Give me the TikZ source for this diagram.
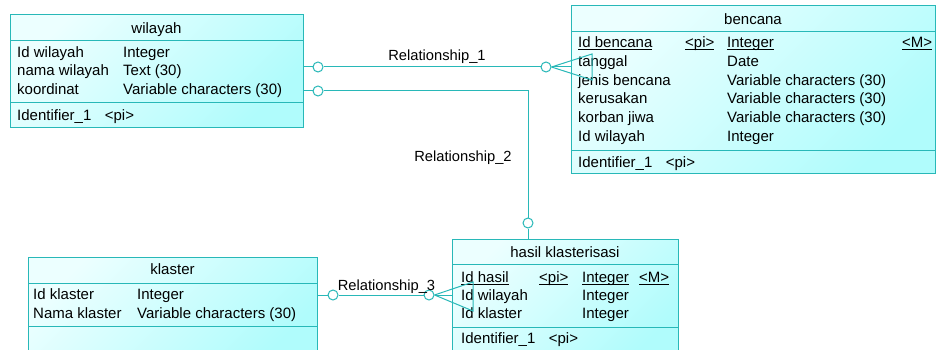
\documentclass[tikz,border=0pt]{standalone}
\usepackage{fontspec}
\setmainfont{Liberation Sans}
\begin{document}
\definecolor{erline}{RGB}{40,184,184}
\definecolor{erlight}{RGB}{236,255,255}
\definecolor{erdark}{RGB}{176,252,252}
% underline placed just below the baseline, independent of descenders
\newcommand\ulx[1]{\setbox0\hbox{#1}\rlap{\rule[-2.2pt]{\wd0}{0.8pt}}\box0}
\begin{tikzpicture}[x=1pt,y=-1pt,
  entity/.style={draw=erline, line width=1pt, top color=erlight, bottom color=erdark, shading angle=45},
  sepline/.style={draw=erline, line width=1pt},
  conn/.style={draw=erline, line width=1pt},
  opt/.style={circle, draw=erline, line width=1pt, fill=white, minimum size=10pt, inner sep=0pt},
  txt/.style={anchor=base west, inner sep=0pt, font=\fontsize{15}{18}\selectfont},
  ttl/.style={anchor=base, inner sep=0pt, font=\fontsize{15}{18}\selectfont},
  rel/.style={anchor=base, inner sep=0pt, font=\fontsize{14.7}{18}\selectfont}]
\useasboundingbox (0,0) rectangle (936,350);
\fill[white] (0,0) rectangle (936,350);
\clip (0,0) rectangle (936,350);

% ---- wilayah ----
\path[entity] (10,15) rectangle (303,127);
\draw[sepline] (10,41) -- (303,41);
\draw[sepline] (10,103) -- (303,103);
\node[ttl] (wT) at (156.5,33.5) {wilayah};
\node[txt] (w1) at (17,57.5) {Id wilayah};
\node[txt] (w2) at (17,76) {nama wilayah};
\node[txt] (w3) at (17,94.5) {koordinat};
\node[txt] (w1t) at (123,57.5) {Integer};
\node[txt] (w2t) at (123,76) {Text (30)};
\node[txt] (w3t) at (123,94.5) {Variable characters (30)};
\node[txt] (wI) at (17,120.5) {Identifier\_1\hspace{0.9em}<pi>};

% ---- bencana ----
\path[entity] (571,6) rectangle (935,173);
\draw[sepline] (571,32) -- (935,32);
\draw[sepline] (571,150) -- (935,150);
\node[ttl] (bT) at (753,24.5) {bencana};
\node[txt] (b1) at (578,47.5) {\ulx{Id bencana}};
\node[txt] (b1p) at (685,47.5) {\ulx{<pi>}};
\node[txt] (b1t) at (727,47.5) {\ulx{Integer}};
\node[txt] (b1m) at (902,47.5) {\ulx{<M>}};
\node[txt] (b2) at (578,66.3) {tanggal};
\node[txt] (b2t) at (727,66.3) {Date};
\node[txt] (b3) at (578,85.1) {jenis bencana};
\node[txt] (b3t) at (727,85.1) {Variable characters (30)};
\node[txt] (b4) at (578,103.9) {kerusakan};
\node[txt] (b4t) at (727,103.9) {Variable characters (30)};
\node[txt] (b5) at (578,122.7) {korban jiwa};
\node[txt] (b5t) at (727,122.7) {Variable characters (30)};
\node[txt] (b6) at (578,141.5) {Id wilayah};
\node[txt] (b6t) at (727,141.5) {Integer};
\node[txt] (bI) at (578,167.5) {Identifier\_1\hspace{0.9em}<pi>};

% ---- klaster ----
\path[entity] (28,257) rectangle (317,362);
\draw[sepline] (28,283) -- (317,283);
\draw[sepline] (28,326) -- (317,326);
\node[ttl] (kT) at (172.5,274.5) {klaster};
\node[txt] (k1) at (33,299.5) {Id klaster};
\node[txt] (k2) at (33,318.5) {Nama klaster};
\node[txt] (k1t) at (137,299.5) {Integer};
\node[txt] (k2t) at (137,318.5) {Variable characters (30)};

% ---- hasil klasterisasi ----
\path[entity] (452,239) rectangle (678,362);
\draw[sepline] (452,264) -- (678,264);
\draw[sepline] (452,327) -- (678,327);
\node[ttl] (hT) at (565,257.5) {hasil klasterisasi};
\node[txt] (h1) at (461,282.5) {\ulx{Id hasil}};
\node[txt] (h1p) at (539,282.5) {\ulx{<pi>}};
\node[txt] (h1t) at (582,282.5) {\ulx{Integer}};
\node[txt] (h1m) at (639,282.5) {\ulx{<M>}};
\node[txt] (h2) at (461,300.5) {Id wilayah};
\node[txt] (h2t) at (582,300.5) {Integer};
\node[txt] (h3) at (461,318.5) {Id klaster};
\node[txt] (h3t) at (582,318.5) {Integer};
\node[txt] (hI) at (461,343.5) {Identifier\_1\hspace{0.9em}<pi>};

% ---- connection points on the entity borders ----
\coordinate (wR1) at (303,67);
\coordinate (wR2) at (303,91);
\coordinate (bL) at (571,67);
\coordinate (bend2) at (528,91);
\coordinate (hTop) at (528,239);
\coordinate (kR) at (317,295);
\coordinate (hL) at (452,295);

% ---- Relationship_1: wilayah -- bencana ----
\node[opt] (r1a) at (318,67) {};
\node[opt] (r1b) at (546,67) {};
\coordinate (r1up) at (592,54);
\coordinate (r1dn) at (592,80);
\draw[conn] (wR1) -- (r1a);
\draw[conn] (r1a) -- (r1b);
\draw[conn] (r1b.east) -- (r1up) -- (r1dn) -- (r1b.east);
\draw[conn] (r1b.east) -- (bL);
\node[rel] (r1l) at (437,60.5) {Relationship\_1};

% ---- Relationship_2: wilayah -- hasil klasterisasi ----
\node[opt] (r2a) at (318,91) {};
\node[opt] (r2b) at (528,223) {};
\draw[conn] (wR2) -- (r2a);
\draw[conn] (r2a) -- (bend2) -- (r2b);
\draw[conn] (r2b) -- (hTop);
\node[rel] (r2l) at (463,161.5) {Relationship\_2};

% ---- Relationship_3: klaster -- hasil klasterisasi ----
\node[opt] (r3a) at (333,295) {};
\node[opt] (r3b) at (429,295) {};
\coordinate (r3up) at (473,282);
\coordinate (r3dn) at (473,311);
\draw[conn] (kR) -- (r3a);
\draw[conn] (r3a) -- (r3b);
\draw[conn] (r3b.east) -- (r3up) -- (r3dn) -- (r3b.east);
\draw[conn] (r3b.east) -- (hL);
\node[rel] (r3l) at (386.5,290) {Relationship\_3};
\end{tikzpicture}
\end{document}
